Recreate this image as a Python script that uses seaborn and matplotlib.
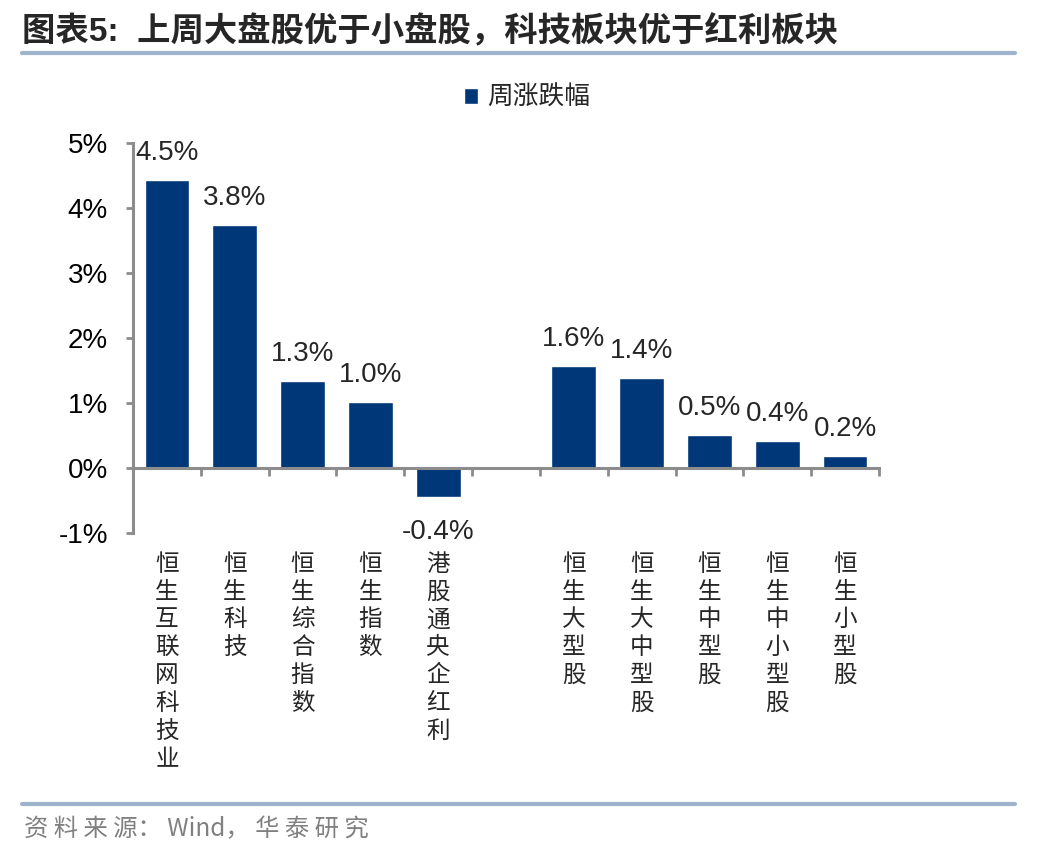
import numpy as np
import pandas as pd
import matplotlib
matplotlib.use('Agg')
import matplotlib.pyplot as plt
from matplotlib.lines import Line2D
import seaborn as sns

# data (weekly change, %)
categories = ['恒生互联网科技业', '恒生科技', '恒生综合指数', '恒生指数', '港股通央企红利',
              ' ', '恒生大型股', '恒生大中型股', '恒生中型股', '恒生中小型股', '恒生小型股']
values = [4.43, 3.74, 1.34, 1.02, -0.45, np.nan, 1.57, 1.38, 0.51, 0.42, 0.18]
value_labels = ['4.5%', '3.8%', '1.3%', '1.0%', '-0.4%', '', '1.6%', '1.4%', '0.5%', '0.4%', '0.2%']
y_ticks = [-1, 0, 1, 2, 3, 4, 5]
series_name = '周涨跌幅'
title = '图表5:  上周大盘股优于小盘股，科技板块优于红利板块'
source = '资 料 来 源： Wind， 华 泰 研 究'

bar_color = '#003778'
axis_grey = '#8C8C8C'
rule_color = '#9DB4CC'

sns.set_style('white')
plt.rcParams['font.family'] = ['Liberation Sans', 'Noto Sans CJK SC', 'DejaVu Sans']
cjk = ['Noto Sans CJK SC', 'DejaVu Sans']

df = pd.DataFrame({'name': categories, 'chg': values})

fig = plt.figure(figsize=(10.48, 8.52), dpi=100)
ax = fig.add_axes([133 / 1048, 1 - 533 / 852, (879 - 133) / 1048, (533 - 143) / 852])

sns.barplot(data=df, x='name', y='chg', order=categories, color=bar_color,
            width=0.66, saturation=1, label=series_name, ax=ax)

ax.set_xlim(-0.5, len(categories) - 0.5)
ax.set_ylim(-1, 5)
ax.set_yticks(y_ticks)
ax.set_yticklabels([f'{t}%' for t in y_ticks], fontsize=20)
ax.set_xlabel('')
ax.set_ylabel('')

# axis styling
for s in ['top', 'right']:
    ax.spines[s].set_visible(False)
ax.spines['left'].set_color(axis_grey)
ax.spines['left'].set_linewidth(2.2)
ax.spines['bottom'].set_position(('data', 0))
ax.spines['bottom'].set_color(axis_grey)
ax.spines['bottom'].set_linewidth(2.2)

ax.tick_params(axis='y', direction='out', length=5, width=2, color=axis_grey, pad=13,
               left=True, labelcolor='black')
ax.set_xticks(range(len(categories)))
ax.set_xticklabels(['\n'.join(c.strip()) for c in categories], fontsize=17,
                   family=cjk, linespacing=1.27)
ax.tick_params(axis='x', which='major', length=0, pad=61)
ax.set_xticks(np.arange(len(categories) + 1) - 0.5, minor=True)
ax.tick_params(axis='x', which='minor', direction='out', length=6, width=2,
               color=axis_grey, bottom=True)

# value labels (NaN slot has no patch)
shown = [(v, l) for v, l in zip(values, value_labels) if not np.isnan(v)]
for patch, (val, lab) in zip(ax.patches, shown):
    x = patch.get_x() + patch.get_width() / 2
    if val >= 0:
        ax.annotate(lab, xy=(x, val), xytext=(0, 10), textcoords='offset points',
                    ha='center', va='bottom', fontsize=20)
    else:
        ax.annotate(lab, xy=(x, val), xytext=(0, -16), textcoords='offset points',
                    ha='center', va='top', fontsize=20)

# legend
leg = ax.legend(loc='center', bbox_to_anchor=(527 / 1048, 1 - 98 / 852),
                bbox_transform=fig.transFigure, frameon=False,
                handlelength=0.55, handleheight=0.55, handletextpad=0.35,
                prop={'family': cjk, 'size': 18.5})

# title, rules and source
fig.text(22 / 1048, 1 - 32 / 852, title, fontsize=24, fontweight='bold',
         va='center', ha='left', family=['Liberation Sans', 'Noto Sans CJK SC'])
fig.add_artist(Line2D([22 / 1048, 1015 / 1048], [1 - 53 / 852] * 2,
                      color=rule_color, lw=3, transform=fig.transFigure))
fig.add_artist(Line2D([22 / 1048, 1015 / 1048], [1 - 804 / 852] * 2,
                      color=rule_color, lw=3, transform=fig.transFigure))
fig.text(24 / 1048, 1 - 829 / 852, source, fontsize=17.5, color='#808080',
         va='center', ha='left', family=cjk)

plt.savefig('out.png', dpi=100)
